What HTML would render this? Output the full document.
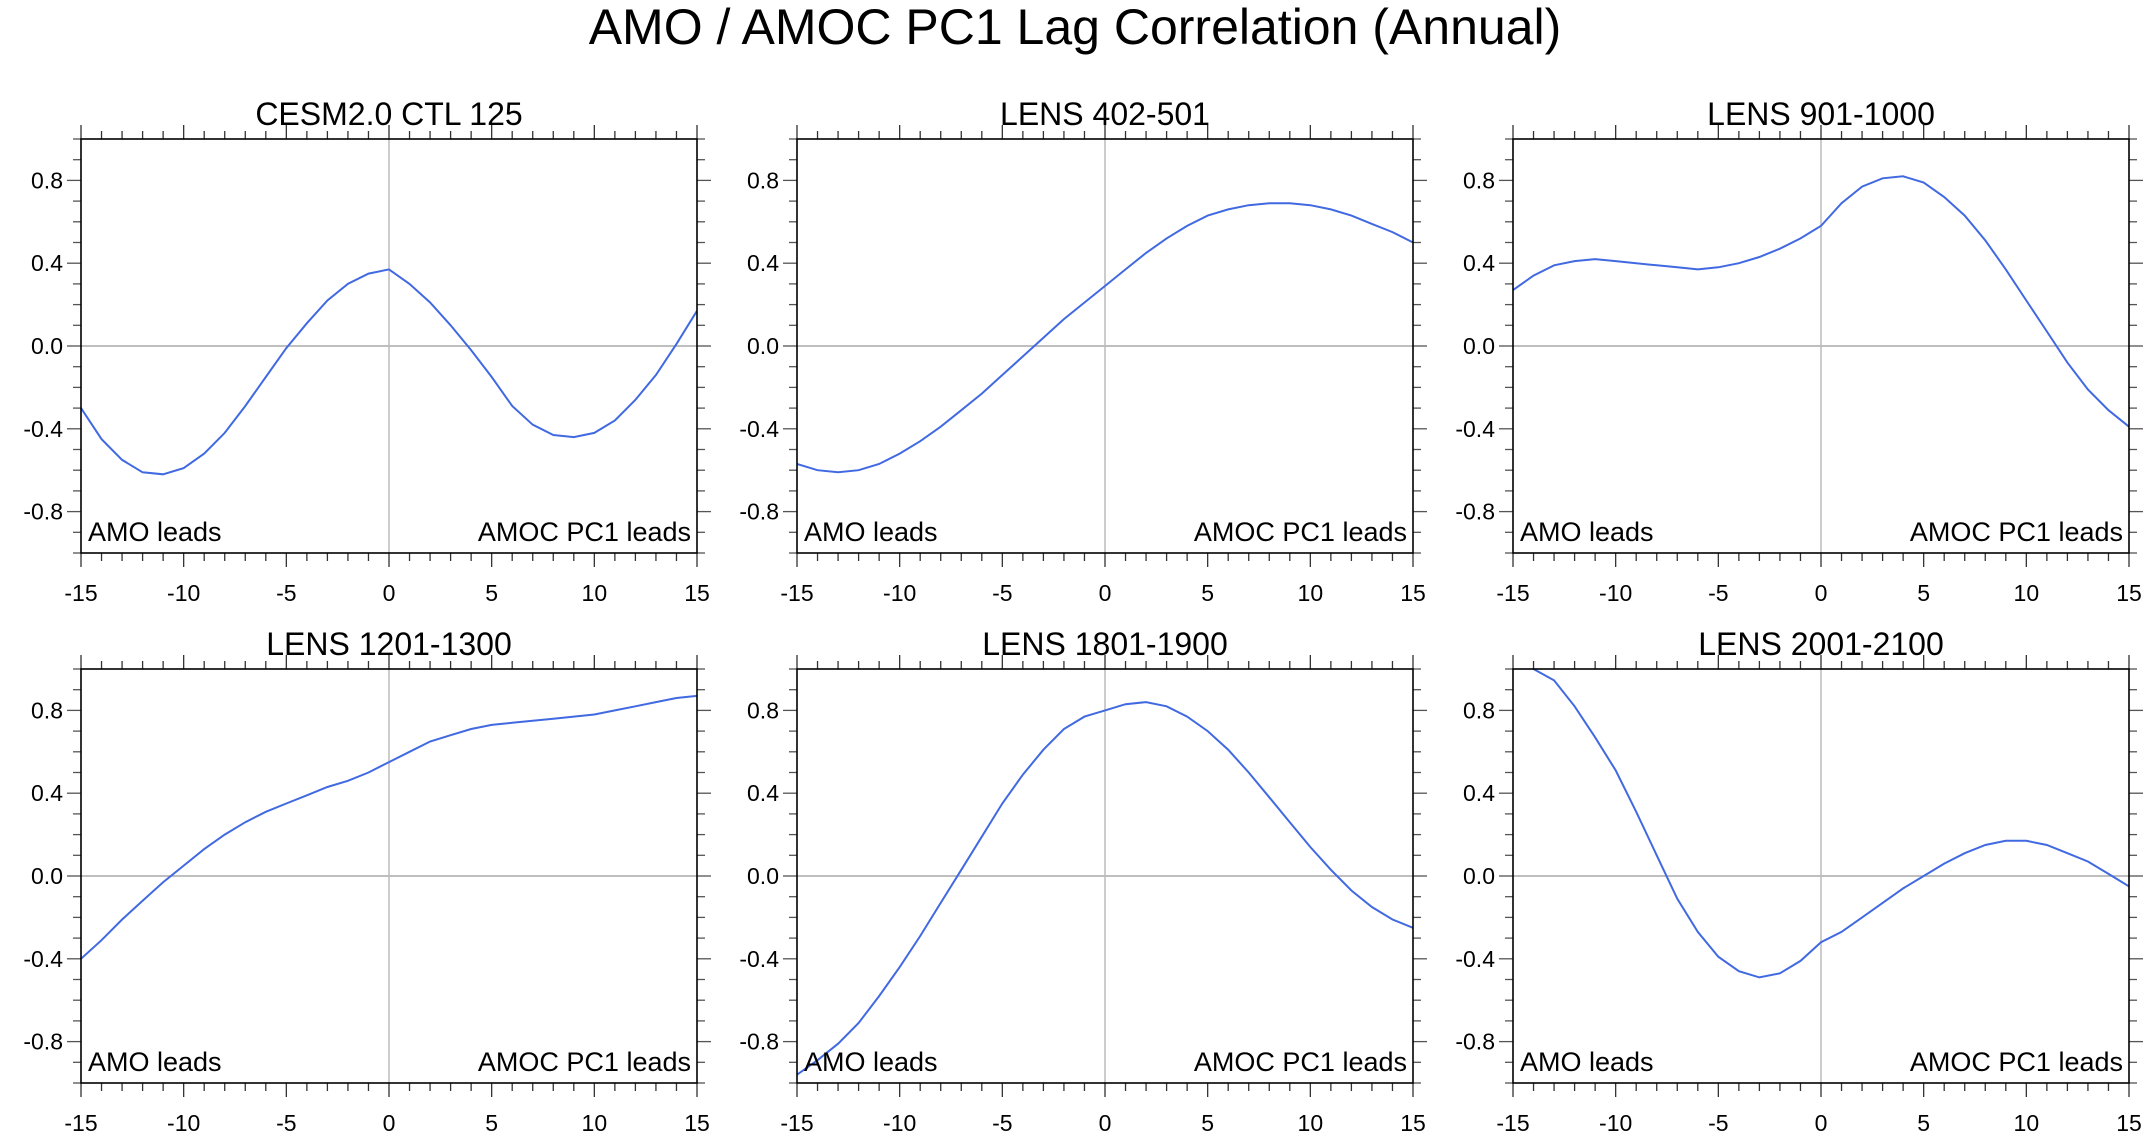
<!DOCTYPE html>
<html><head><meta charset="utf-8"><style>
html,body{margin:0;padding:0;background:#fff;}
svg{display:block;font-family:"Liberation Sans",sans-serif;}
</style></head><body>
<svg id="chart" width="2151" height="1140" viewBox="0 0 2151 1140">
<text x="1075" y="44" font-size="50" text-anchor="middle">AMO / AMOC PC1 Lag Correlation (Annual)</text>
</svg>
<script>
const lags = [-15,-14,-13,-12,-11,-10,-9,-8,-7,-6,-5,-4,-3,-2,-1,0,1,2,3,4,5,6,7,8,9,10,11,12,13,14,15];
const panelTitles = ["CESM2.0 CTL 125","LENS 402-501","LENS 901-1000","LENS 1201-1300","LENS 1801-1900","LENS 2001-2100"];
const cesmCtl = [-0.30,-0.45,-0.55,-0.61,-0.62,-0.59,-0.52,-0.42,-0.29,-0.15,-0.01,0.11,0.22,0.30,0.35,0.37,0.30,0.21,0.10,-0.02,-0.15,-0.29,-0.38,-0.43,-0.44,-0.42,-0.36,-0.26,-0.14,0.01,0.17];
const lens402 = [-0.57,-0.60,-0.61,-0.60,-0.57,-0.52,-0.46,-0.39,-0.31,-0.23,-0.14,-0.05,0.04,0.13,0.21,0.29,0.37,0.45,0.52,0.58,0.63,0.66,0.68,0.69,0.69,0.68,0.66,0.63,0.59,0.55,0.50];
const lens901 = [0.27,0.34,0.39,0.41,0.42,0.41,0.40,0.39,0.38,0.37,0.38,0.40,0.43,0.47,0.52,0.58,0.69,0.77,0.81,0.82,0.79,0.72,0.63,0.51,0.37,0.22,0.07,-0.08,-0.21,-0.31,-0.39];
const lens1201 = [-0.40,-0.31,-0.21,-0.12,-0.03,0.05,0.13,0.20,0.26,0.31,0.35,0.39,0.43,0.46,0.50,0.55,0.60,0.65,0.68,0.71,0.73,0.74,0.75,0.76,0.77,0.78,0.80,0.82,0.84,0.86,0.87];
const lens1801 = [-0.96,-0.89,-0.81,-0.71,-0.58,-0.44,-0.29,-0.13,0.03,0.19,0.35,0.49,0.61,0.71,0.77,0.80,0.83,0.84,0.82,0.77,0.70,0.61,0.50,0.38,0.26,0.14,0.03,-0.07,-0.15,-0.21,-0.25];
const lens2001 = [1.06,1.00,0.945,0.82,0.67,0.51,0.31,0.10,-0.11,-0.27,-0.39,-0.46,-0.49,-0.47,-0.41,-0.32,-0.27,-0.20,-0.13,-0.06,0.00,0.06,0.11,0.15,0.17,0.17,0.15,0.11,0.07,0.01,-0.05];
const xTicks = [-15,-10,-5,0,5,10,15];
const yTicks = [-0.8,-0.4,0.0,0.4,0.8];
const yTickLabels = ["-0.8","-0.4","0.0","0.4","0.8"];

const allSeries = [cesmCtl,lens402,lens901,lens1201,lens1801,lens2001];
const NS = "http://www.w3.org/2000/svg";
const svg = document.getElementById("chart");
const colX = [81,797,1513], rowY = [139,669], PW = 616, PH = 414;
function mk(tag, attrs, parent){ const e=document.createElementNS(NS,tag); for(const k in attrs) e.setAttribute(k,attrs[k]); (parent||svg).appendChild(e); return e; }

allSeries.forEach((series, i) => {
  const x0 = colX[i%3], y0 = rowY[Math.floor(i/3)];
  const xs = v => x0 + (v+15)/30*PW;
  const ys = v => y0 + (1-v)/2*PH;
  const g = mk("g", {});
  
  
  const cid = "clip"+i;
  const cp = mk("clipPath",{id:cid},g); mk("rect",{x:x0,y:y0,width:PW,height:PH},cp);
  const t = mk("text",{x:x0+PW/2,y:y0-14,"font-size":32,"text-anchor":"middle"},g);
  t.textContent = panelTitles[i];
  
  
  // zero lines
  const zl = mk("line",{x1:x0,x2:x0+PW,y1:ys(0),y2:ys(0),stroke:"#aaa","stroke-width":1.5},g);
  
  
  const zv = mk("line",{x1:xs(0),x2:xs(0),y1:y0,y2:y0+PH,stroke:"#bbb","stroke-width":1.5},g);
  
  
  // minor x ticks
  for(let v=-15; v<=15; v++){
    const big = v%5===0;
    const L = big?14:8;
    mk("line",{x1:xs(v),x2:xs(v),y1:y0,y2:y0-L,stroke:"#333","stroke-width":1.3},g);
    mk("line",{x1:xs(v),x2:xs(v),y1:y0+PH,y2:y0+PH+L,stroke:"#333","stroke-width":1.3},g);
  }
  for(let k=-10;k<=10;k++){
    const v=k/10; const big = Math.abs(Math.round(v*10))%4===0;
    const L = big?14:8;
    mk("line",{x1:x0,x2:x0-L,y1:ys(v),y2:ys(v),stroke:"#555","stroke-width":1.3},g);
    mk("line",{x1:x0+PW,x2:x0+PW+L,y1:ys(v),y2:ys(v),stroke:"#555","stroke-width":1.3},g);
  }
  xTicks.forEach(v=>{
    const tl = mk("text",{x:xs(v),y:y0+PH+48,"font-size":23,"text-anchor":"middle"},g);
    tl.textContent = String(v);
    
    
  });
  yTicks.forEach((v,j)=>{
    const tl = mk("text",{x:x0-18,y:ys(v)+8,"font-size":23,"text-anchor":"end"},g);
    tl.textContent = yTickLabels[j];
    
    
  });
  const pts = series.map((v,j)=>xs(lags[j]).toFixed(1)+","+ys(v).toFixed(1)).join(" ");
  const pl = mk("polyline",{points:pts,fill:"none",stroke:"#4169e1","stroke-width":2,"clip-path":"url(#"+cid+")"},g);
  
  
  const fr = mk("rect",{x:x0,y:y0,width:PW,height:PH,fill:"none",stroke:"#000","stroke-width":1.6},g);
  
  
  const a = mk("text",{x:x0+7,y:y0+PH-12,"font-size":27},g);
  a.textContent = "AMO leads";
  
  
  const b = mk("text",{x:x0+PW-6,y:y0+PH-12,"font-size":27,"text-anchor":"end"},g);
  b.textContent = "AMOC PC1 leads";
  
  
});
</script>
</body></html>
